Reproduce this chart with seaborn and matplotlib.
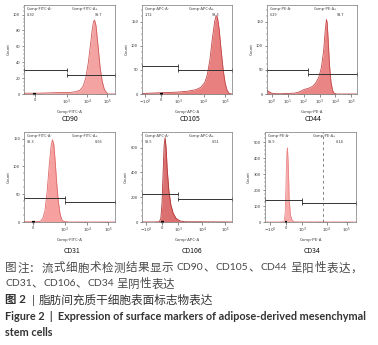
import re
import numpy as np
import pandas as pd
import matplotlib
matplotlib.use("Agg")
import matplotlib.pyplot as plt
import seaborn as sns
from matplotlib.ticker import FixedLocator

sns.set_theme(style="ticks")
plt.rcParams['font.family'] = ['Noto Sans CJK SC', 'DejaVu Sans']
plt.rcParams['axes.unicode_minus'] = False

# ---- data (x in display decades, 10^3 -> 3, 10^4 -> 4 ...) ----
titles = ["CD90", "CD105", "CD44", "CD31", "CD106", "CD34"]
channels = ["Comp-FITC-A", "Comp-APC-A", "Comp-PE-A", "Comp-FITC-A", "Comp-APC-A", "Comp-PE-A"]
neg_pct = ["0.30", "1.72", "6.29", "99.3", "99.5", "99.9"]
pos_pct = ["98.7", "98.3", "93.7", "0.66", "0.51", "0.14"]

x_cd90 = [0.93, 1.6, 2.2, 2.8, 3.2, 3.45, 3.65, 3.8, 3.92, 4.05, 4.15, 4.24, 4.3, 4.35, 4.42, 4.52, 4.62, 4.72, 4.82, 4.92, 5.0, 5.34]
y_cd90 = [1, 1, 1.5, 2, 2, 3, 5, 10, 20, 40, 62, 82, 91, 93, 86, 60, 33, 16, 6, 2, 0, 0]

x_cd105 = [1.56, 2.0, 2.5, 3.0, 3.4, 3.7, 3.9, 4.05, 4.15, 4.25, 4.35, 4.44, 4.5, 4.55, 4.62, 4.7, 4.78, 4.86, 4.94, 5.02, 5.13]
y_cd105 = [1, 2, 3, 4, 6, 9, 14, 24, 40, 70, 115, 150, 163, 160, 135, 90, 50, 22, 7, 1, 0]

x_cd44 = [0.5, 0.6, 0.8, 1.2, 3, 10, 30, 60, 100, 160, 250, 400, 600, 900, 1300, 1800, 2300, 2700, 3000, 3500, 4200, 5200, 6500, 8000, 12000, 224000]
y_cd44 = [8, 6, 3, 1, 0.5, 1, 2, 5, 9, 11, 13, 17, 24, 35, 55, 90, 135, 155, 148, 110, 60, 25, 8, 2, 0, 0]

x_cd31 = [1.16, 1.6, 1.88, 2.0, 2.1, 2.2, 2.3, 2.38, 2.44, 2.5, 2.56, 2.63, 2.7, 2.78, 2.85, 2.93, 3.2, 5.25]
y_cd31 = [0.5, 0.5, 1, 6, 20, 55, 105, 138, 148, 140, 110, 70, 38, 15, 5, 1, 0, 0]

x_cd106 = [1.47, 2.0, 2.2, 2.26, 2.31, 2.36, 2.4, 2.44, 2.48, 2.53, 2.6, 2.68, 2.78, 2.9, 3.05, 3.25, 5.25]
y_cd106 = [0, 0, 2, 30, 150, 420, 620, 680, 600, 420, 250, 140, 70, 30, 10, 2, 0]

x_cd34 = [1.47, 2.0, 2.25, 2.3, 2.34, 2.37, 2.39, 2.42, 2.46, 2.51, 2.58, 2.68, 5.2]
y_cd34 = [0, 0, 2, 60, 300, 440, 465, 370, 150, 45, 10, 1, 0]

xs = [x_cd90, x_cd105, x_cd44, x_cd31, x_cd106, x_cd34]
ys = [y_cd90, y_cd105, y_cd44, y_cd31, y_cd106, y_cd34]

# gates: (left y, right y, split x)
gates = [(30, 24, 3.0), (59, 49, 3.0), (50, 42, 200), (43, 36, 3.0), (222, 186, 3.0), (141, 120, 3.0)]

xlims = [(0.93, 5.34), (1.56, 5.13), (10**-0.3, 10**5.35), (1.16, 5.25), (1.47, 5.25), (1.47, 5.2)]
ylims = [112, 185, 185, 162, 725, 565]
yticks = [[0, 20, 40, 60, 80, 100], [0, 50, 100, 150], [0, 50, 100, 150],
          [0, 50, 100, 150], [0, 200, 400, 600], [0, 100, 200, 300, 400, 500]]
xtick_pos = [[1.46, 3, 4, 4.97], [1.69, 2.33, 3, 4, 4.87], [1, 10, 100, 1e3, 1e4, 1e5],
             [1.58, 3, 4, 4.94], [1.64, 2.31, 3, 4, 4.97], [1.67, 2.33, 3, 4, 4.82]]
xtick_lab = [["0", "$10^3$", "$10^4$", "$10^5$"],
             ["$-10^3$", "0", "$10^3$", "$10^4$", "$10^5$"],
             ["$10^0$", "$10^1$", "$10^2$", "$10^3$", "$10^4$", "$10^5$"],
             ["0", "$10^3$", "$10^4$", "$10^5$"],
             ["$-10^3$", "0", "$10^3$", "$10^4$", "$10^5$"],
             ["$-10^3$", "0", "$10^3$", "$10^4$", "$10^5$"]]
blob_x = [(1.38, 1.52), (2.28, 2.4), None, (1.5, 1.64), (2.25, 2.38), (2.27, 2.38)]

fills = ["#f4a3a3", "#e98080", "#e98585", "#f6a0a0", "#dc7070", "#f7abab"]
edges = ["#d05a5a", "#c04545", "#c54848", "#e06a6a", "#b03535", "#ea8585"]

# axes rects in pixels (x, y, w, h)
rects = [(24, 5, 91, 89), (142, 5, 90, 89), (267, 5, 90, 89),
         (24, 132, 91, 90), (142, 132, 90, 90), (265, 132, 91, 90)]
W, H = 378, 345

fig = plt.figure(figsize=(W / 100, H / 100), dpi=100)
fig.patch.set_facecolor("white")

for i in range(6):
    px, py, pw, ph = rects[i]
    ax = fig.add_axes([px / W, 1 - (py + ph) / H, pw / W, ph / H])
    df = pd.DataFrame({"x": xs[i], "y": ys[i]})
    if i == 2:
        ax.set_xscale("log")
    ax.fill_between(df["x"], df["y"], color=fills[i], lw=0)
    sns.lineplot(data=df, x="x", y="y", ax=ax, color=edges[i], lw=0.6)
    ax.set_xlim(*xlims[i])
    ax.set_ylim(0, ylims[i])

    # gates
    ly, ry, sx = gates[i]
    x0, x1 = xlims[i]
    gcol = "#333333"
    ax.plot([x0, sx], [ly, ly], color=gcol, lw=0.7, clip_on=False)
    ax.plot([sx, x1], [ry, ry], color=gcol, lw=0.7, clip_on=False)
    for gx, gy in [(x0, ly), (sx, ly), (sx, ry), (x1, ry)]:
        ax.plot([gx], [gy], marker="|", ms=3, mew=0.6, color=gcol, clip_on=False)
    if i == 5:
        ax.axvline(3.86, color="#555555", lw=0.5, ls=(0, (4, 4)))
    if blob_x[i] is not None:
        ax.plot(list(blob_x[i]), [0, 0], color="black", lw=1.6, clip_on=False,
                solid_capstyle="butt")

    # labels inside
    ax.text(0.03, 0.955, channels[i] + "-", transform=ax.transAxes, fontsize=2.8,
            ha="left", va="center", color="#333333")
    ax.text(0.03, 0.885, neg_pct[i], transform=ax.transAxes, fontsize=2.8,
            ha="left", va="center", color="#333333")
    ax.text(0.52, 0.955, channels[i] + "+", transform=ax.transAxes, fontsize=2.8,
            ha="left", va="center", color="#333333")
    ax.text(0.86, 0.885, pos_pct[i], transform=ax.transAxes, fontsize=2.8,
            ha="right", va="center", color="#333333")

    # ticks
    ax.set_yticks(yticks[i])
    ax.set_yticklabels([str(t) for t in yticks[i]])
    step = yticks[i][1] - yticks[i][0]
    ax.yaxis.set_minor_locator(FixedLocator(np.arange(0, ylims[i], step / 4)))
    ax.set_xticks(xtick_pos[i])
    ax.set_xticklabels(xtick_lab[i])
    if i != 2:
        minors = []
        for d in [3, 4]:
            minors += [d + np.log10(k) for k in range(2, 10)]
        ax.xaxis.set_minor_locator(FixedLocator(minors))
    ax.tick_params(axis="both", which="major", length=1.8, width=0.4, pad=1,
                   labelsize=3, colors="#333333")
    ax.tick_params(axis="both", which="minor", length=1.0, width=0.3, colors="#333333")
    for s in ax.spines.values():
        s.set_linewidth(0.5)
        s.set_color("#777777")
    ax.set_xlabel(channels[i], fontsize=3, labelpad=2, color="#333333")
    ax.set_ylabel("Count", fontsize=3, labelpad=2, color="#333333")

# panel titles
title_xy = [(70, 119), (190, 119), (313, 119), (72, 251), (192, 251), (312, 251)]
for t, (tx, ty) in zip(titles, title_xy):
    fig.text(tx / W, 1 - ty / H, t, fontsize=5, ha="center", va="center", color="#111111")

# caption
cap1 = "图注：流式细胞术检测结果显示 CD90、CD105、CD44 呈阳性表达，"
cap2 = "CD31、CD106、CD34 呈阴性表达"
cap3a = "图 2"
cap3b = "脂肪间充质干细胞表面标志物表达"
cap4 = "Figure 2  |  Expression of surface markers of adipose-derived mesenchymal"
cap5 = "stem cells"

cap_font = ["Lato", "Noto Sans CJK SC"]
renderer = fig.canvas.get_renderer()


def text_width(s, size):
    t = fig.text(0, 0, s, fontsize=size, family=cap_font)
    w = t.get_window_extent(renderer).width
    t.remove()
    return w


def token_line(s, x0, y, x1=None, latin=7.5, cjk=8.3, color="#4a4a4a"):
    # Latin words drawn as one piece, CJK signs one by one;
    # if x1 is given the leftover room is spread between the printed pieces
    toks = re.findall(r"[A-Za-z0-9]+| |\S", s)
    sizes = [latin if re.match(r"[A-Za-z0-9]", t) else cjk for t in toks]
    widths = []
    for t, sz in zip(toks, sizes):
        if t == " ":
            widths.append(text_width("a a", latin) - text_width("aa", latin))
        else:
            widths.append(text_width(t, sz))
    n_print = sum(1 for t in toks if t != " ")
    track = 0 if x1 is None else (x1 - x0 - sum(widths)) / (n_print - 1)
    xc = x0
    for t, sz, w in zip(toks, sizes, widths):
        if t != " ":
            fig.text(xc / W, 1 - y / H, t, fontsize=sz, family=cap_font,
                     ha="left", va="center", color=color)
            xc += w + track
        else:
            xc += w


token_line(cap1, 5, 268, x1=362)
token_line(cap2, 5, 284)
fig.text(5 / W, 1 - 300 / H, cap3a, fontsize=8.3, ha="left", va="center",
         color="#333333", fontweight="bold", family=cap_font)
fig.text(33 / W, 1 - 300 / H, "|", fontsize=8.3, ha="center", va="center",
         color="#333333", family=cap_font)
fig.text(39 / W, 1 - 300 / H, cap3b, fontsize=8.4, ha="left", va="center",
         color="#333333", family=cap_font)
fig.text(5 / W, 1 - 316 / H, cap4, fontsize=7.8, ha="left", va="center",
         color="#333333", fontweight="bold", family=["Lato", "DejaVu Sans"])
fig.text(5 / W, 1 - 333 / H, cap5, fontsize=7.8, ha="left", va="center",
         color="#333333", fontweight="bold", family=["Lato", "DejaVu Sans"])

fig.savefig("out.png", dpi=100)
